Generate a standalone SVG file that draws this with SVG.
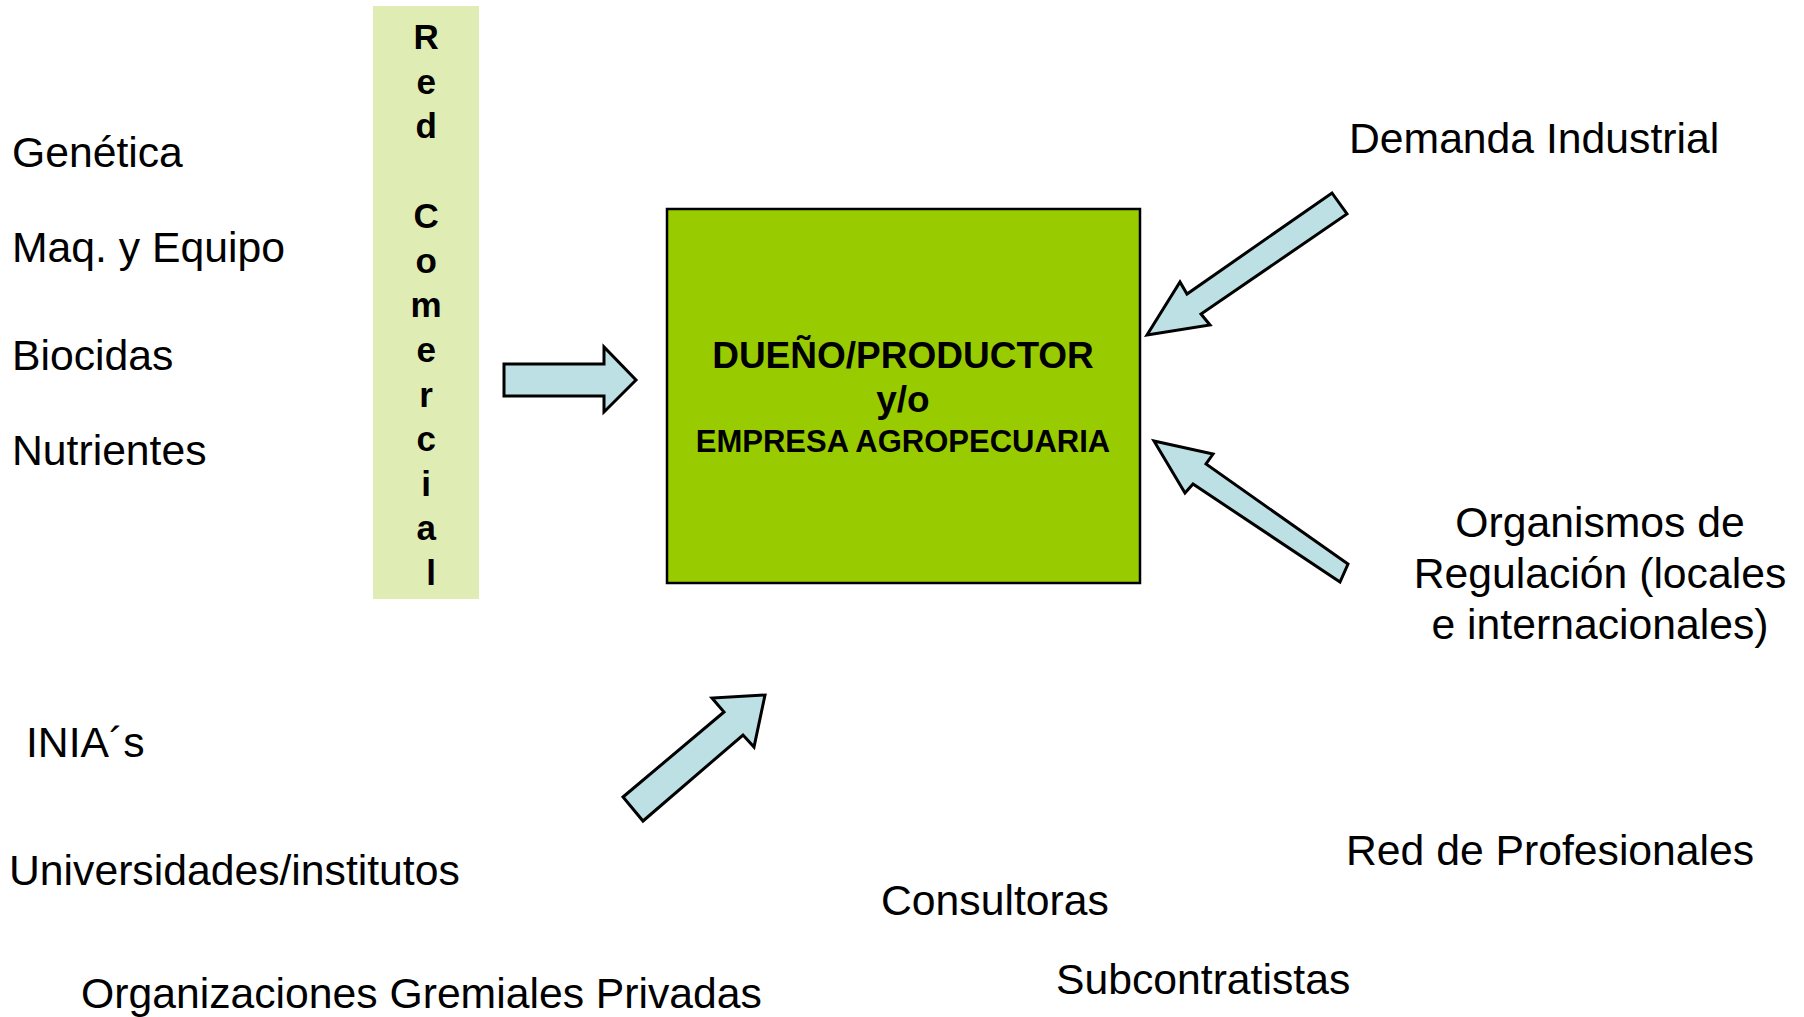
<svg xmlns="http://www.w3.org/2000/svg" width="1804" height="1017" viewBox="0 0 1804 1017">
<style>
.lbl{font-family:"Liberation Sans",Arial,sans-serif;font-size:42.7px;fill:#000}
.bold{font-family:"Liberation Sans",Arial,sans-serif;font-weight:bold;fill:#000}
.arrow{fill:#BCE0E3;stroke:#000;stroke-width:3;stroke-linejoin:miter}
</style>
<rect width="1804" height="1017" fill="#fff"/>
<g id="red-comercial">
<rect x="373" y="6" width="106" height="593" fill="#DFEDB5"/>
<text class="bold" font-size="35" text-anchor="middle">
<tspan x="431" y="49">R</tspan>
<tspan x="431" y="94">e</tspan>
<tspan x="431" y="138">d</tspan>
<tspan x="431" y="228">C</tspan>
<tspan x="431" y="273">o</tspan>
<tspan x="431" y="317">m</tspan>
<tspan x="431" y="362">e</tspan>
<tspan x="431" y="407">r</tspan>
<tspan x="431" y="451">c</tspan>
<tspan x="431" y="496">i</tspan>
<tspan x="431" y="540">a</tspan>
<tspan x="431" y="585">l</tspan>
</text>
</g>
<g id="productor">
<rect x="667" y="209" width="473" height="374" fill="#99CC00" stroke="#000" stroke-width="2.5"/>
<text class="bold" font-size="37" text-anchor="middle" x="903" y="368">DUEÑO/PRODUCTOR</text>
<text class="bold" font-size="37" text-anchor="middle" x="903" y="412">y/o</text>
<text class="bold" font-size="31" text-anchor="middle" x="903" y="452">EMPRESA AGROPECUARIA</text>
</g>
<g id="insumos">
<text class="lbl" x="12" y="167">Genética</text>
<text class="lbl" x="12" y="262">Maq. y Equipo</text>
<text class="lbl" x="12" y="370">Biocidas</text>
<text class="lbl" x="12" y="465">Nutrientes</text>
</g>
<g id="demanda"><text class="lbl" x="1349" y="153">Demanda Industrial</text></g>
<g id="organismos">
<text class="lbl" text-anchor="middle" x="1600" y="537">Organismos de</text>
<text class="lbl" text-anchor="middle" x="1600" y="588">Regulación (locales</text>
<text class="lbl" text-anchor="middle" x="1600" y="639">e internacionales)</text>
</g>
<g id="inia"><text class="lbl" x="26" y="757">INIA´s</text></g>
<g id="universidades"><text class="lbl" x="9" y="885">Universidades/institutos</text></g>
<g id="organizaciones"><text class="lbl" x="81" y="1008">Organizaciones Gremiales Privadas</text></g>
<g id="profesionales"><text class="lbl" x="1346" y="865">Red de Profesionales</text></g>
<g id="consultoras"><text class="lbl" x="881" y="915">Consultoras</text></g>
<g id="subcontratistas"><text class="lbl" x="1056" y="994">Subcontratistas</text></g>
<g id="connectors">
<polygon class="arrow" points="504,364 604,364 604,347 636,380 604,412 604,396 504,396"/>
<polygon class="arrow" points="1332,193 1347,214 1201,314 1210,325 1147,335 1180,282 1187,294"/>
<polygon class="arrow" points="1154,441 1213,454 1206,464 1348,564 1340,582 1193,484 1185,493"/>
<polygon class="arrow" points="623,797 724,712 712,698 765,695 754,747 743,735 643,821"/>
</g>
</svg>
